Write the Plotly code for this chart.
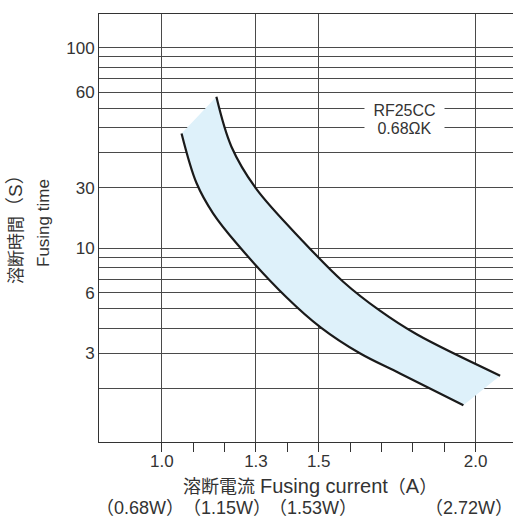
import plotly.graph_objects as go

# Upper curve
upper_x = [1.174, 1.222, 1.300, 1.451, 1.578, 1.695, 1.812, 2.078]
upper_y = [56.9, 32.1, 19.9, 10.8, 6.82, 4.89, 3.73, 2.32]
# Lower curve
lower_x = [1.063, 1.111, 1.164, 1.238, 1.398, 1.506, 1.631, 1.759, 1.961]
lower_y = [37.4, 21.1, 14.9, 10.6, 5.69, 4.04, 3.00, 2.38, 1.652]

x_tickvals = [1.0, 1.3, 1.5, 2.0]
x_ticktext = ["1.0", "1.3", "1.5", "2.0"]
x_minor = [1.1, 1.2, 1.4, 1.6, 1.7, 1.8, 1.9]
y_tickvals = [3, 6, 10, 20, 60, 100]
y_ticktext = ["3", "6", "10", "30", "60", "100"]
y_minor = [2, 4, 5, 7, 8, 9, 30, 40, 50, 70, 80, 90]
watt_labels = ["（0.68W）", "（1.15W）", "（1.53W）", "（2.72W）"]

FONT = "Liberation Sans, Arial, Noto Sans CJK JP"
TXT = "#333333"
GRID = "#4a4a4a"

W, H = 513, 519
L, R, T, B = 99, 0, 14, 77
pw = W - L - R
ph = H - T - B

def px_x(px):
    return (px - L) / pw

def px_y(py):
    return (H - B - py) / ph

fig = go.Figure()

# band between the curves: repeated end points give sharp corners so the
# straight end edges are not rounded by the spline
band_x = upper_x + [upper_x[-1], lower_x[-1]] + lower_x[::-1]
band_y = upper_y + [upper_y[-1], lower_y[-1]] + lower_y[::-1]
fig.add_trace(go.Scatter(
    x=band_x, y=band_y, fill="toself", fillcolor="#def1fa",
    line=dict(width=0, shape="spline", smoothing=1.0, simplify=False),
    mode="lines", hoverinfo="skip", showlegend=False))

fig.add_trace(go.Scatter(x=lower_x, y=lower_y, mode="lines",
                         line=dict(color="#1a1a1a", width=2.2, shape="spline", smoothing=1.0),
                         showlegend=False))
fig.add_trace(go.Scatter(x=upper_x, y=upper_y, mode="lines",
                         line=dict(color="#1a1a1a", width=2.2, shape="spline", smoothing=1.0),
                         showlegend=False))

fig.update_layout(
    width=W, height=H,
    margin=dict(l=L, r=R, t=T, b=B),
    paper_bgcolor="white", plot_bgcolor="white",
    font=dict(family=FONT, color=TXT, size=17),
    showlegend=False,
)

fig.update_xaxes(
    range=[0.8, 2.119],
    tickmode="array", tickvals=x_tickvals, ticktext=x_ticktext,
    ticks="outside", ticklen=9, tickcolor="#333", tickwidth=1,
    ticklabelstandoff=-5,
    showgrid=True, gridcolor=GRID, gridwidth=1,
    showline=True, linecolor="#333", linewidth=1, mirror=True,
    zeroline=False,
    tickfont=dict(size=17, color=TXT),
    minor=dict(tickvals=x_minor, ticks="outside", ticklen=9,
               tickcolor="#333", tickwidth=1, showgrid=False),
)
fig.update_yaxes(
    type="log", range=[0.035, 2.168],
    tickmode="array", tickvals=y_tickvals, ticktext=y_ticktext,
    ticks="", showgrid=True, gridcolor=GRID, gridwidth=1,
    showline=True, linecolor="#333", linewidth=1,
    zeroline=False,
    tickfont=dict(size=17, color=TXT),
    minor=dict(tickvals=y_minor, ticks="", showgrid=True,
               gridcolor=GRID, gridwidth=1),
)

ann = []
# legend box
ann.append(dict(text="RF25CC", x=px_x(364), y=px_y(110), xref="paper", yref="paper",
                xanchor="left", yanchor="middle", showarrow=False, align="center",
                width=79, borderpad=0, bgcolor="white",
                font=dict(size=16, color=TXT, family=FONT)))
ann.append(dict(text="0.68ΩK", x=px_x(364), y=px_y(128.7), xref="paper", yref="paper",
                xanchor="left", yanchor="middle", showarrow=False, align="center",
                width=79, borderpad=0, bgcolor="white",
                font=dict(size=16, color=TXT, family=FONT)))

# y title
ann.append(dict(text='溶断時間<span style="font-size:19px">（S）</span>',
                x=px_x(15), y=px_y(225), xref="paper", yref="paper",
                xanchor="center", yanchor="middle", textangle=-90, showarrow=False,
                font=dict(size=17, color=TXT, family=FONT)))
ann.append(dict(text="Fusing time",
                x=px_x(43), y=px_y(223), xref="paper", yref="paper",
                xanchor="center", yanchor="middle", textangle=-90, showarrow=False,
                font=dict(size=17, color=TXT, family=FONT)))

# x title
ann.append(dict(text='溶断電流 <span style="font-size:20px">Fusing current</span>（<span style="font-size:20px">A</span>）',
                x=px_x(310), y=px_y(486), xref="paper", yref="paper",
                xanchor="center", yanchor="middle", showarrow=False,
                font=dict(size=18, color=TXT, family=FONT)))

watt_px = [140, 227, 313, 469]
for lab, cx in zip(watt_labels, watt_px):
    ann.append(dict(text=lab, x=px_x(cx), y=px_y(508), xref="paper", yref="paper",
                    xanchor="center", yanchor="middle", showarrow=False,
                    font=dict(size=18, color=TXT, family=FONT)))

fig.update_layout(annotations=ann)
fig.write_html("out.html",
               config={"displayModeBar": False},
               post_script="document.body.style.margin='0';document.body.style.padding='0';")
